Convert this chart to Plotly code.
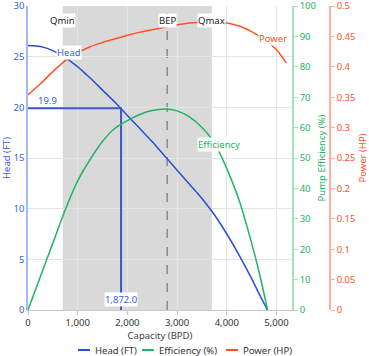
import plotly.graph_objects as go

# ---- data ----
head_capacity = [0, 250, 500, 750, 1000, 1250, 1500, 1750, 2000, 2250, 2500, 2750, 3000, 3250, 3500, 3750, 4000, 4250, 4500, 4650, 4820]
head_ft = [26.1, 26.0, 25.6, 24.9, 24.0, 22.9, 21.7, 20.5, 19.2, 17.9, 16.6, 15.2, 13.8, 12.4, 11.0, 9.4, 7.5, 5.4, 3.1, 1.6, 0.0]
eff_capacity = [0, 250, 500, 750, 1000, 1250, 1500, 1750, 2000, 2250, 2500, 2750, 3000, 3250, 3500, 3750, 4000, 4250, 4500, 4650, 4820]
eff_pct = [0, 11, 22, 33, 42.5, 49.5, 55.5, 59.8, 62.3, 64.3, 65.6, 66.1, 65.5, 63.5, 60, 55, 46.5, 36, 22, 12.5, 0]
pow_capacity = [0, 250, 500, 750, 1000, 1250, 1500, 1750, 2000, 2250, 2500, 2750, 3000, 3250, 3500, 3750, 4000, 4250, 4500, 4750, 5000, 5200]
pow_hp = [0.354, 0.372, 0.392, 0.410, 0.423, 0.433, 0.440, 0.446, 0.452, 0.457, 0.461, 0.465, 0.469, 0.472, 0.473, 0.474, 0.472, 0.467, 0.458, 0.445, 0.428, 0.406]

q_min = 700
q_max = 3700
bep = 2800
op_capacity = 1872.0
op_head = 19.9

x_ticks = [0, 1000, 2000, 3000, 4000, 5000]
x_tick_labels = ["0", "1,000", "2,000", "3,000", "4,000", "5,000"]

series_names = ["Head (FT)", "Efficiency (%)", "Power (HP)"]

# ---- styles ----
BLUE = "#2a4fd0"
BLUE_TXT = "#3a5fe0"
GREEN = "#20b560"
RED = "#ff5228"
FONT = "Noto Sans"
FS = 9.5

W, H = 369, 356
ML, MR, MT, MB = 28, 4, 6, 46
PW = W - ML - MR
PH = H - MT - MB
def px_x(p):
    return (p - ML) / PW
def px_y(p):
    return (H - MB - p) / PH

fig = go.Figure()
fig.add_trace(go.Scatter(x=head_capacity, y=head_ft, name=series_names[0], mode="lines",
                         line=dict(color=BLUE, width=1.5, shape="spline", smoothing=0.8), yaxis="y"))
fig.add_trace(go.Scatter(x=eff_capacity, y=eff_pct, name=series_names[1], mode="lines",
                         line=dict(color=GREEN, width=1.5, shape="spline", smoothing=0.8), yaxis="y2"))
fig.add_trace(go.Scatter(x=pow_capacity, y=pow_hp, name=series_names[2], mode="lines",
                         line=dict(color=RED, width=1.5, shape="spline", smoothing=0.8), yaxis="y3"))
# operating point guide lines
fig.add_trace(go.Scatter(x=[0, op_capacity, op_capacity], y=[op_head, op_head, 0], mode="lines",
                         line=dict(color="#3a58d0", width=2), showlegend=False, hoverinfo="skip", yaxis="y"))

xd = (292 - ML) / PW
fig.update_layout(
    width=W, height=H,
    margin=dict(l=ML, r=MR, t=MT, b=MB, autoexpand=False),
    paper_bgcolor="white", plot_bgcolor="white",
    font=dict(family=FONT, size=FS, color="#333"),
    showlegend=False,
    xaxis=dict(domain=[0, xd], range=[0, 5312], tickvals=x_ticks, ticktext=x_tick_labels,
               showgrid=True, gridcolor="#e4e4e4", gridwidth=1, zeroline=False, automargin=False,
               showline=True, linecolor="#c8c8c8", ticks="outside", ticklen=4, tickcolor="#c8c8c8",
               tickfont=dict(size=FS, color="#333"),
               title=dict(text="Capacity (BPD)", font=dict(size=FS, color="#444"), standoff=2)),
    yaxis=dict(range=[0, 30], dtick=5, showgrid=True, gridcolor="#e4e4e4", zeroline=False, automargin=False,
               showline=True, linecolor="#a6b8f5", linewidth=1.5, ticks="", ticklabeloverflow="allow",
               tickfont=dict(size=FS, color=BLUE_TXT),
               title=dict(text="Head (FT)", font=dict(size=FS, color=BLUE_TXT), standoff=3)),
    yaxis2=dict(range=[0, 100], dtick=10, overlaying="y", side="right", anchor="x", automargin=False,
                showgrid=False, zeroline=False, showline=True, linecolor="#a0e6b8", linewidth=1.5,
                ticks="outside", ticklen=4, tickcolor="#a0e6b8", ticklabeloverflow="allow",
                tickfont=dict(size=FS, color=GREEN),
                title=dict(text="Pump Efficiency (%)", font=dict(size=FS, color=GREEN), standoff=3)),
    yaxis3=dict(range=[0, 0.5], dtick=0.05, overlaying="y", side="right", anchor="free", automargin=False,
                position=px_x(330),
                showgrid=False, zeroline=False, showline=True, linecolor="#ffad9c", linewidth=1.5,
                ticks="outside", ticklen=4, tickcolor="#ffad9c", ticklabeloverflow="allow",
                tickfont=dict(size=FS, color=RED),
                title=dict(text="Power (HP)", font=dict(size=FS, color=RED), standoff=1)),
)

fig.add_shape(type="rect", xref="x", yref="paper", x0=q_min, x1=q_max, y0=0, y1=1,
              fillcolor="rgba(0,0,0,0.15)", line=dict(width=0), layer="between")
fig.add_shape(type="line", xref="x", yref="paper", x0=bep, x1=bep, y0=0, y1=1,
              line=dict(color="#888888", width=1.5, dash="dash"), layer="between")

def label(x, y, text, color, yref="y", bg="white"):
    fig.add_annotation(x=x, y=y, xref="x", yref=yref, text=text, showarrow=False,
                       font=dict(size=FS, color=color), bgcolor=bg, borderpad=0)

label(q_min, px_y(13), "Qmin", "#222", yref="paper")
label(bep, px_y(13), "BEP", "#222", yref="paper")
label(q_max, px_y(13), "Qmax", "#222", yref="paper")
label(830, 25.4, "Head", BLUE_TXT)
label(3845, 16.3, "Efficiency", GREEN)
label(4930, 26.8, "Power", RED)
label(395, 20.7, f"{op_head:.1f}", BLUE_TXT, bg="rgba(0,0,0,0)")
label(op_capacity, 1.0, f"{op_capacity:,.1f}", BLUE_TXT)

# compact legend (symbol line + text)
leg_y = px_y(350)
legend_items = [(78, 90, 93, BLUE), (142, 154, 157, GREEN), (226, 238, 241, RED)]
for (lx0, lx1, tx, col), name in zip(legend_items, series_names):
    fig.add_shape(type="line", xref="paper", yref="paper", x0=px_x(lx0), x1=px_x(lx1),
                  y0=leg_y, y1=leg_y, line=dict(color=col, width=2))
    fig.add_annotation(xref="paper", yref="paper", x=px_x(tx), y=leg_y, text=name, showarrow=False,
                       xanchor="left", yanchor="middle", font=dict(size=FS, color="#333"))

fig.write_html("out.html", config={"displayModeBar": False},
               post_script="document.body.style.margin='0';document.body.style.overflow='hidden';")
